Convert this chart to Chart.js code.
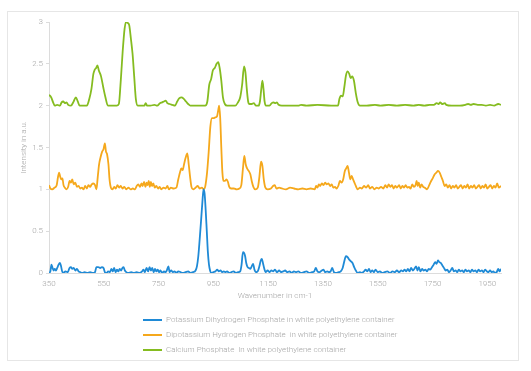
<!DOCTYPE html>
<html><head><meta charset="utf-8">
<script src="https://cdn.jsdelivr.net/npm/chart.js@4.4.1/dist/chart.umd.min.js"></script>
<style>html,body{margin:0;padding:0;background:#fff;}canvas{display:block;}</style>
</head><body>
<canvas id="c" width="531" height="371"></canvas>
<script>
const seriesNames = [
  'Potassium Dihydrogen Phosphate in white polyethylene container',
  'Dipotassium Hydrogen Phosphate  in white polyethylene container',
  'Calcium Phosphate  In white polyethylene container'
];
const seriesColors = ['#1f8ad6', '#f5a81c', '#85bc20'];
const xTickValues = [350, 550, 750, 950, 1150, 1350, 1550, 1750, 1950];
const xAxisTitle = 'Wavenumber in cm-1';
const yAxisTitle = 'Intensity in a.u.';

// [wavenumber, intensity]
const potassiumDihydrogen = [[350,0.00],[355,0.02],[359,0.10],[363,0.06],[367,0.03],[371,0.05],[375,0.03],[380,0.06],[385,0.10],[390,0.12],[394,0.08],[398,0.02],[403,0.00],[410,0.02],[418,0.01],[425,0.06],[430,0.07],[435,0.05],[440,0.06],[446,0.03],[452,0.05],[458,0.02],[464,0.01],[472,0.00],[480,0.01],[490,0.00],[500,0.01],[510,0.00],[518,0.01],[523,0.07],[530,0.07],[537,0.06],[543,0.07],[549,0.06],[554,0.01],[560,0.00],[566,0.02],[572,0.01],[578,0.05],[583,0.02],[588,0.06],[593,0.01],[598,0.04],[603,0.02],[608,0.05],[613,0.03],[618,0.06],[622,0.07],[627,0.03],[632,0.01],[640,0.00],[650,0.01],[660,0.00],[670,0.01],[680,0.00],[690,0.02],[695,0.04],[700,0.01],[706,0.06],[712,0.02],[717,0.07],[722,0.03],[727,0.06],[732,0.01],[737,0.05],[742,0.02],[747,0.04],[752,0.01],[757,0.03],[763,0.00],[770,0.02],[775,0.01],[780,0.03],[786,0.08],[790,0.01],[796,0.03],[802,0.01],[808,0.02],[815,0.00],[822,0.02],[830,0.01],[838,0.00],[848,0.01],[858,0.02],[866,0.00],[876,0.01],[885,0.03],[890,0.08],[895,0.20],[900,0.40],[905,0.62],[910,0.85],[914,1.00],[918,0.95],[922,0.75],[926,0.50],[930,0.25],[934,0.10],[938,0.03],[942,0.00],[950,0.01],[958,0.02],[964,0.04],[970,0.02],[976,0.03],[982,0.01],[988,0.02],[994,0.01],[1000,0.02],[1008,0.00],[1016,0.01],[1024,0.02],[1032,0.00],[1040,0.01],[1048,0.02],[1053,0.10],[1058,0.25],[1062,0.24],[1066,0.20],[1070,0.12],[1075,0.07],[1080,0.06],[1085,0.05],[1090,0.08],[1095,0.11],[1100,0.04],[1106,0.01],[1112,0.02],[1118,0.08],[1123,0.15],[1127,0.17],[1131,0.12],[1136,0.05],[1141,0.01],[1148,0.03],[1155,0.01],[1162,0.03],[1168,0.02],[1175,0.04],[1182,0.01],[1190,0.03],[1197,0.01],[1205,0.02],[1212,0.03],[1220,0.01],[1228,0.02],[1236,0.00],[1244,0.02],[1252,0.01],[1260,0.02],[1270,0.00],[1280,0.01],[1290,0.02],[1300,0.00],[1310,0.01],[1318,0.02],[1324,0.06],[1330,0.02],[1338,0.01],[1346,0.03],[1352,0.04],[1358,0.01],[1366,0.02],[1372,0.01],[1378,0.02],[1384,0.06],[1390,0.01],[1398,0.00],[1408,0.01],[1415,0.02],[1422,0.06],[1428,0.14],[1434,0.20],[1440,0.19],[1446,0.16],[1452,0.14],[1458,0.12],[1464,0.07],[1470,0.03],[1477,0.00],[1485,0.01],[1492,0.00],[1500,0.02],[1506,0.04],[1512,0.02],[1518,0.05],[1524,0.01],[1530,0.03],[1536,0.01],[1542,0.04],[1550,0.01],[1558,0.02],[1566,0.00],[1575,0.01],[1585,0.02],[1595,0.00],[1604,0.02],[1612,0.01],[1620,0.03],[1628,0.01],[1636,0.03],[1642,0.02],[1648,0.04],[1654,0.02],[1660,0.05],[1666,0.02],[1672,0.06],[1678,0.03],[1684,0.05],[1690,0.08],[1695,0.03],[1700,0.07],[1706,0.02],[1712,0.05],[1718,0.03],[1724,0.04],[1730,0.02],[1736,0.05],[1742,0.04],[1748,0.07],[1754,0.10],[1760,0.13],[1765,0.11],[1770,0.15],[1775,0.13],[1780,0.12],[1786,0.09],[1792,0.06],[1798,0.03],[1804,0.04],[1810,0.01],[1816,0.03],[1822,0.06],[1828,0.02],[1834,0.03],[1840,0.01],[1846,0.04],[1852,0.02],[1858,0.03],[1864,0.01],[1870,0.04],[1876,0.02],[1882,0.03],[1888,0.01],[1894,0.04],[1900,0.02],[1906,0.03],[1912,0.01],[1918,0.04],[1924,0.02],[1930,0.03],[1936,0.01],[1942,0.04],[1948,0.02],[1954,0.01],[1960,0.03],[1966,0.01],[1972,0.02],[1978,0.00],[1984,0.01],[1990,0.05],[1995,0.02],[2000,0.05]];

const dipotassiumHydrogen = [[350,1.05],[355,1.01],[362,1.00],[370,1.02],[378,1.05],[383,1.15],[387,1.20],[391,1.15],[395,1.12],[399,1.13],[403,1.05],[408,1.02],[414,1.00],[420,1.03],[425,1.10],[430,1.08],[435,1.12],[440,1.06],[446,1.08],[452,1.03],[458,1.04],[464,1.01],[470,1.02],[476,1.00],[482,1.04],[488,1.01],[494,1.05],[500,1.03],[506,1.06],[512,1.07],[518,1.05],[523,1.00],[528,1.15],[533,1.30],[538,1.38],[544,1.45],[549,1.48],[554,1.55],[558,1.45],[562,1.42],[567,1.30],[571,1.12],[576,1.02],[582,1.00],[588,1.03],[594,1.01],[600,1.05],[606,1.02],[612,1.04],[618,1.01],[625,1.03],[632,1.00],[640,1.02],[648,1.00],[656,1.01],[664,1.00],[670,1.04],[676,1.06],[682,1.03],[688,1.07],[692,1.04],[697,1.09],[702,1.03],[706,1.08],[710,1.05],[714,1.10],[718,1.03],[722,1.09],[726,1.04],[731,1.07],[736,1.02],[742,1.04],[748,1.01],[754,1.03],[760,1.00],[768,1.02],[776,1.01],[782,1.04],[788,1.00],[795,1.02],[805,1.01],[815,1.02],[822,1.12],[828,1.20],[833,1.25],[838,1.23],[843,1.30],[849,1.38],[855,1.43],[860,1.30],[865,1.15],[870,1.03],[876,1.00],[885,1.02],[893,1.04],[900,1.01],[908,1.02],[915,1.00],[920,1.03],[927,1.20],[933,1.45],[939,1.75],[945,1.85],[951,1.85],[957,1.86],[963,1.87],[968,1.95],[971,2.00],[975,1.85],[979,1.50],[983,1.20],[987,1.10],[992,1.10],[998,1.12],[1003,1.09],[1008,1.03],[1015,1.01],[1025,1.01],[1035,1.00],[1045,1.01],[1052,1.05],[1058,1.25],[1063,1.40],[1068,1.30],[1073,1.25],[1079,1.22],[1085,1.18],[1090,1.10],[1096,1.03],[1103,1.00],[1112,1.02],[1118,1.15],[1124,1.33],[1129,1.28],[1134,1.12],[1140,1.02],[1148,1.00],[1160,1.01],[1168,1.04],[1174,1.05],[1180,1.01],[1190,1.02],[1200,1.01],[1215,1.00],[1230,1.02],[1245,1.01],[1260,1.00],[1275,1.01],[1290,1.00],[1305,1.01],[1320,1.00],[1325,1.04],[1330,1.02],[1335,1.06],[1340,1.04],[1346,1.07],[1352,1.05],[1358,1.08],[1364,1.06],[1370,1.07],[1376,1.04],[1382,1.06],[1388,1.02],[1394,1.03],[1400,1.01],[1406,1.04],[1412,1.10],[1418,1.08],[1424,1.12],[1430,1.22],[1435,1.25],[1440,1.28],[1445,1.20],[1450,1.12],[1455,1.16],[1460,1.12],[1465,1.08],[1470,1.04],[1477,1.00],[1485,1.02],[1492,1.01],[1500,1.04],[1508,1.02],[1515,1.05],[1522,1.01],[1530,1.03],[1538,1.00],[1546,1.02],[1554,1.01],[1562,1.03],[1570,1.01],[1578,1.05],[1584,1.02],[1590,1.06],[1596,1.03],[1602,1.05],[1608,1.01],[1614,1.04],[1620,1.02],[1628,1.05],[1634,1.01],[1640,1.04],[1646,1.02],[1652,1.05],[1658,1.02],[1664,1.03],[1670,1.01],[1676,1.06],[1682,1.03],[1688,1.05],[1692,1.10],[1696,1.04],[1700,1.08],[1705,1.02],[1710,1.06],[1716,1.03],[1722,1.02],[1730,1.00],[1738,1.05],[1745,1.10],[1752,1.14],[1758,1.18],[1764,1.20],[1770,1.22],[1776,1.20],[1782,1.15],[1788,1.10],[1794,1.04],[1800,1.06],[1806,1.02],[1812,1.05],[1818,1.01],[1824,1.04],[1830,1.02],[1836,1.05],[1842,1.01],[1848,1.03],[1854,1.05],[1860,1.01],[1866,1.04],[1872,1.02],[1878,1.06],[1884,1.01],[1890,1.04],[1896,1.02],[1902,1.05],[1908,1.01],[1914,1.03],[1920,1.05],[1926,1.01],[1932,1.04],[1938,1.02],[1944,1.06],[1950,1.01],[1956,1.03],[1962,1.05],[1968,1.01],[1974,1.04],[1980,1.02],[1986,1.07],[1992,1.02],[2000,1.04]];

const calciumPhosphate = [[350,2.13],[358,2.10],[365,2.04],[371,2.00],[380,2.01],[390,2.00],[396,2.04],[402,2.05],[408,2.03],[414,2.04],[420,2.01],[430,2.00],[440,2.05],[448,2.10],[455,2.05],[462,2.00],[475,2.00],[488,2.00],[497,2.08],[505,2.20],[512,2.38],[517,2.43],[522,2.45],[527,2.48],[532,2.42],[540,2.35],[548,2.22],[556,2.10],[565,2.00],[580,2.00],[597,2.00],[605,2.02],[612,2.30],[619,2.65],[626,2.92],[631,3.00],[637,2.99],[643,2.96],[649,2.80],[655,2.62],[661,2.35],[667,2.08],[674,2.00],[690,2.00],[698,2.00],[703,2.03],[708,2.00],[720,2.00],[735,2.01],[745,2.00],[755,2.03],[763,2.04],[769,2.05],[776,2.06],[782,2.03],[790,2.02],[800,2.01],[810,2.00],[818,2.05],[826,2.09],[834,2.10],[842,2.08],[850,2.05],[858,2.02],[866,2.00],[880,2.00],[900,2.00],[920,2.00],[928,2.05],[935,2.25],[942,2.32],[948,2.42],[955,2.45],[962,2.50],[968,2.52],[973,2.45],[979,2.30],[985,2.10],[992,2.02],[1000,2.00],[1015,2.00],[1030,2.00],[1040,2.04],[1048,2.10],[1055,2.25],[1062,2.47],[1067,2.40],[1072,2.20],[1077,2.05],[1082,2.02],[1090,2.02],[1098,2.03],[1105,2.00],[1115,2.00],[1120,2.05],[1125,2.20],[1129,2.30],[1133,2.20],[1137,2.05],[1142,2.00],[1155,2.00],[1163,2.03],[1170,2.04],[1176,2.03],[1182,2.04],[1188,2.01],[1200,2.00],[1230,2.00],[1260,2.00],[1270,2.01],[1290,2.00],[1330,2.01],[1380,2.00],[1405,2.00],[1410,2.08],[1416,2.12],[1422,2.11],[1428,2.22],[1434,2.36],[1440,2.41],[1446,2.38],[1451,2.33],[1457,2.35],[1463,2.30],[1470,2.15],[1477,2.04],[1485,2.00],[1510,2.00],[1540,2.01],[1560,2.00],[1590,2.01],[1620,2.00],[1650,2.01],[1680,2.00],[1700,2.01],[1720,2.00],[1740,2.01],[1755,2.01],[1765,2.03],[1772,2.02],[1778,2.04],[1785,2.02],[1795,2.03],[1800,2.01],[1820,2.00],[1850,2.00],[1870,2.01],[1880,2.02],[1890,2.01],[1900,2.02],[1915,2.01],[1930,2.01],[1945,2.00],[1960,2.01],[1975,2.00],[1990,2.02],[2000,2.01]];

const seriesData = [potassiumDihydrogen, dipotassiumHydrogen, calciumPhosphate];

const FONT = {family: 'Roboto', size: 8, weight: '300'};
const TEXT = '#a6a6a6';

const cardPlugin = {
  id: 'card',
  beforeDraw(chart) {
    const ctx = chart.ctx;
    ctx.save();
    ctx.fillStyle = '#ffffff';
    ctx.fillRect(0, 0, chart.width, chart.height);
    ctx.strokeStyle = '#e6e6e6';
    ctx.lineWidth = 1;
    ctx.strokeRect(7.5, 11.5, 511, 349);
    ctx.restore();
  }
};

const legendPlace = {
  id: 'legendPlace',
  afterLayout(chart) {
    const lg = chart.legend;
    if (!lg) return;
    lg.left = 136; lg.top = 309;
    lg.right = lg.left + 340; lg.bottom = lg.top + 60;
    lg.width = 340; lg.height = 60;
  }
};

new Chart(document.getElementById('c'), {
  type: 'line',
  data: {
    datasets: seriesData.map((s, i) => ({
      label: seriesNames[i],
      data: s.map(p => ({x: p[0], y: p[1]})),
      borderColor: seriesColors[i],
      backgroundColor: seriesColors[i],
      borderWidth: 1.8,
      pointRadius: 0,
      cubicInterpolationMode: 'monotone',
      fill: false
    }))
  },
  options: {
    responsive: false,
    animation: false,
    devicePixelRatio: 1,
    layout: {padding: {left: 15, top: 22, right: 30, bottom: 66}},
    scales: {
      x: {
        type: 'linear', min: 350, max: 2000,
        afterBuildTicks: s => { s.ticks = xTickValues.map(v => ({value: v})); },
        afterFit: s => { s.height = 32; },
        grid: {display: false, drawTicks: false},
        border: {display: true, color: '#dcdcdc'},
        ticks: {padding: 6, color: TEXT, font: FONT, maxRotation: 0, autoSkip: false, callback: v => String(v)},
        title: {display: true, text: xAxisTitle, color: TEXT, font: FONT, padding: {top: 4, bottom: 4}}
      },
      y: {
        min: 0, max: 3,
        afterFit: s => { s.width = 34; },
        grid: {drawOnChartArea: false, drawTicks: true, tickLength: 3, color: '#dcdcdc'},
        border: {display: true, color: '#dcdcdc'},
        ticks: {stepSize: 0.5, padding: 3, color: TEXT, font: FONT, callback: v => String(v)},
        title: {display: true, text: yAxisTitle, color: TEXT, font: FONT, padding: {top: 4, bottom: 4}}
      }
    },
    plugins: {
      tooltip: {enabled: false},
      legend: {
        position: 'chartArea',
        align: 'start',
        labels: {
          boxWidth: 19, boxHeight: 2, padding: 7, color: TEXT, font: FONT,
          generateLabels: chart => Chart.defaults.plugins.legend.labels.generateLabels(chart).map(l => Object.assign(l, {lineWidth: 0}))
        }
      }
    }
  },
  plugins: [cardPlugin, legendPlace]
});
</script>
</body></html>
